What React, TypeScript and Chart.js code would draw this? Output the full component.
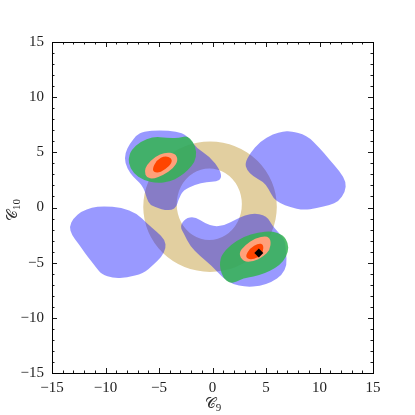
import { useEffect, useRef } from "react";
import { Chart, registerables } from "chart.js";

Chart.register(...registerables);

type P = [number, number];

const axisMin = -15;
const axisMax = 15;
const majorStep = 5;
const minorStep = 1;
const titleMain = "𝒞";
const xTitleSub = "9";
const yTitleSub = "10";

// Tan annulus: outer boundary and inner hole
const ringOuter: P[] = [
  [6.13, 0.07], [5.65, 2.37], [4.27, 4.33], [2.2, 5.63], [-0.23, 6.09], [-2.66, 5.63], [-4.73, 4.33],
  [-6.11, 2.37], [-6.59, 0.07], [-6.11, -2.23], [-4.73, -4.19], [-2.66, -5.49], [-0.23, -5.95],
  [2.2, -5.49], [4.27, -4.19], [5.65, -2.23],
];
const ringInner: P[] = [
  [2.85, 0.3], [2.43, 1.98], [1.28, 3.2], [-0.3, 3.65], [-1.88, 3.2], [-3.03, 1.98], [-3.45, 0.3],
  [-3.03, -1.38], [-1.88, -2.6], [-0.3, -3.05], [1.28, -2.6], [2.43, -1.38],
];

// Blue regions
const blueTopRight: P[] = [
  [7.24, 6.94], [8.8, 6.57], [10.05, 5.37], [10.82, 4.46], [11.92, 3.25], [12.48, 2.34], [12.41, 1.43],
  [11.76, 0.53], [10.98, 0.23], [9.74, -0.07], [8.49, -0.23], [7.24, 0.02], [6.31, 0.38], [5.68, 0.83],
  [5.21, 1.74], [4.75, 2.34], [3.81, 2.79], [3.2, 3.4], [3.04, 4.01], [3.5, 4.91], [4.44, 5.97],
  [5.68, 6.66], [6.62, 6.87],
];
const blueLeft: P[] = [
  [-10.21, 0.14], [-8.49, -0.02], [-7.08, -0.53], [-6.15, -1.43], [-5.21, -2.19], [-4.44, -2.95],
  [-4.35, -3.7], [-4.75, -4.46], [-5.53, -5.21], [-6.47, -5.97], [-8.02, -6.36], [-9.27, -6.42],
  [-10.36, -6.06], [-10.82, -5.51], [-11.29, -4.91], [-11.92, -4.15], [-12.54, -3.25], [-13.16, -2.49],
  [-13.38, -1.74], [-13.01, -0.98], [-12.22, -0.32], [-11.29, -0.02],
];
const blueTopLeft: P[] = [
  [-6.47, 6.87], [-4.91, 7.03], [-3.35, 6.87], [-2.41, 6.57], [-1.48, 5.37], [-0.23, 4.61], [0.7, 3.4],
  [0.86, 2.65], [0.39, 2.34], [-0.54, 2.34], [-1.64, 2.04], [-2.73, 1.59], [-3.2, 0.68], [-3.35, 0.07],
  [-3.81, -0.23], [-4.44, -0.23], [-5.07, -0.07], [-5.84, 0.23], [-6.15, 0.83], [-6.31, 1.43],
  [-6.62, 2.04], [-7.08, 2.49], [-7.71, 3.1], [-8.18, 4.01], [-8.18, 4.91], [-7.71, 5.82], [-7.08, 6.57],
];
const blueBottom: P[] = [
  [-2.57, -0.98], [-1.64, -0.83], [-0.7, -1.43], [0.23, -1.74], [1.17, -1.59], [2.1, -1.13], [3.04, -0.68],
  [3.97, -0.53], [4.75, -0.68], [5.21, -0.98], [5.56, -1.59], [6.12, -2.22], [6.78, -2.95], [6.87, -4.03],
  [6.96, -5.21], [6.5, -6.12], [5.56, -6.75], [4.44, -7.12], [3.13, -7.21], [1.82, -6.94], [0.89, -6.3],
  [-0.05, -5.3], [-1.17, -4.4], [-2.1, -3.49], [-2.66, -2.4], [-3.04, -1.74],
];

// Green regions
const greenTopLeft: P[] = [
  [-7.55, 5.21], [-6.78, 5.97], [-5.53, 6.42], [-4.28, 6.33], [-3.2, 6.27], [-2.41, 6.51], [-1.79, 5.97],
  [-1.48, 5.06], [-1.64, 4.15], [-2.26, 3.4], [-3.04, 2.79], [-3.97, 2.34], [-5.21, 2.19], [-6.47, 2.49],
  [-7.4, 3.1], [-7.87, 4.01], [-7.78, 4.76],
];
const greenBottomRight: P[] = [
  [0.86, -4.31], [1.64, -3.4], [2.88, -2.65], [4.28, -2.25], [5.53, -2.13], [6.62, -2.49], [7.08, -3.25],
  [7.08, -4.01], [6.62, -4.91], [5.84, -5.51], [4.91, -5.97], [3.81, -6.27], [2.88, -6.42], [2.26, -6.73],
  [1.64, -6.87], [1.01, -6.42], [0.7, -5.51], [0.7, -4.91],
];

// Salmon regions
const salmonTopLeft: P[] = [
  [-6.15, 3.85], [-5.37, 4.61], [-4.44, 5.0], [-3.5, 4.91], [-3.2, 4.31], [-3.66, 3.55], [-4.6, 2.95],
  [-5.53, 2.58], [-6.15, 2.7], [-6.37, 3.25],
];
const salmonBottomRight: P[] = [
  [2.41, -4.15], [3.04, -3.4], [3.97, -2.79], [5.07, -2.56], [5.47, -2.95], [5.37, -3.85], [4.75, -4.46],
  [3.81, -4.91], [2.88, -4.91],
];

// Red regions
const redTopLeft: P[] = [
  [-5.68, 3.4], [-5.21, 4.31], [-4.44, 4.7], [-3.81, 4.46], [-3.81, 4.01], [-4.44, 3.4], [-5.21, 3.1],
];
const redBottomRight: P[] = [
  [3.04, -4.46], [3.5, -3.7], [4.28, -3.25], [4.75, -3.34], [4.75, -4.01], [4.28, -4.55], [3.5, -4.76],
];

// Best-fit point
const bestFit: P[] = [[4.33, -4.12]];

const toPts = (arr: P[]) => arr.map(([x, y]) => ({ x, y }));
const withHoles = (...parts: P[][]) => {
  const out: any[] = [];
  parts.forEach((p, i) => {
    if (i > 0) out.push({ x: null, y: null });
    out.push(...toPts(p));
  });
  return out;
};

const regionDs = (label: string, data: any[], color: string) => ({
  label,
  data,
  region: true,
  fillColor: color,
  pointRadius: 0,
  pointHoverRadius: 0,
  showLine: false,
  backgroundColor: color,
  borderColor: color,
});

const regionPlugin = {
  id: "regions",
  beforeDatasetsDraw(chart: any) {
    const { ctx, chartArea: a } = chart;
    ctx.save();
    ctx.beginPath();
    ctx.rect(a.left, a.top, a.right - a.left, a.bottom - a.top);
    ctx.clip();
    chart.data.datasets.forEach((ds: any, i: number) => {
      if (!ds.region) return;
      const meta = chart.getDatasetMeta(i);
      const subpaths: { x: number; y: number }[][] = [[]];
      meta.data.forEach((el: any) => {
        if (isNaN(el.x) || isNaN(el.y)) {
          subpaths.push([]);
        } else {
          subpaths[subpaths.length - 1].push({ x: el.x, y: el.y });
        }
      });
      ctx.beginPath();
      subpaths.forEach((pts) => {
        const n = pts.length;
        if (n < 3) return;
        const mid = (p: any, q: any) => ({ x: (p.x + q.x) / 2, y: (p.y + q.y) / 2 });
        const s = mid(pts[n - 1], pts[0]);
        ctx.moveTo(s.x, s.y);
        for (let k = 0; k < n; k++) {
          const p = pts[k];
          const m = mid(p, pts[(k + 1) % n]);
          ctx.quadraticCurveTo(p.x, p.y, m.x, m.y);
        }
        ctx.closePath();
      });
      ctx.fillStyle = ds.fillColor;
      ctx.fill("evenodd");
    });
    ctx.restore();
  },
};

const framePlugin = {
  id: "frame",
  afterDatasetsDraw(chart: any) {
    const { ctx, chartArea: a, scales } = chart;
    const xs = scales.x;
    const ys = scales.y;
    ctx.save();
    ctx.strokeStyle = "#1a1a1a";
    ctx.lineWidth = 1;
    ctx.beginPath();
    for (let v = axisMin; v <= axisMax; v += minorStep) {
      const len = v % majorStep === 0 ? 5 : 2.5;
      const px = Math.round(xs.getPixelForValue(v)) + 0.5;
      ctx.moveTo(px, a.bottom);
      ctx.lineTo(px, a.bottom - len);
      ctx.moveTo(px, a.top);
      ctx.lineTo(px, a.top + len);
      const py = Math.round(ys.getPixelForValue(v)) + 0.5;
      ctx.moveTo(a.left, py);
      ctx.lineTo(a.left + len, py);
      ctx.moveTo(a.right, py);
      ctx.lineTo(a.right - len, py);
    }
    ctx.stroke();
    ctx.strokeStyle = "#000";
    ctx.strokeRect(a.left + 0.5, a.top + 0.5, a.right - a.left, a.bottom - a.top);
    ctx.restore();
  },
};

const serif = "'Liberation Serif', 'DejaVu Serif', serif";

const drawSubLabel = (ctx: any, main: string, sub: string) => {
  ctx.font = `15px ${serif}`;
  const wm = ctx.measureText(main).width;
  ctx.font = `11px ${serif}`;
  const ws = ctx.measureText(sub).width;
  const total = wm + ws;
  ctx.textAlign = "left";
  ctx.textBaseline = "alphabetic";
  ctx.font = `15px ${serif}`;
  ctx.fillText(main, -total / 2, 0);
  ctx.font = `11px ${serif}`;
  ctx.fillText(sub, -total / 2 + wm, 3);
};

const titlePlugin = {
  id: "axisTitles",
  afterDraw(chart: any) {
    const { ctx, chartArea: a } = chart;
    ctx.save();
    ctx.fillStyle = "#2a2a2a";
    ctx.translate((a.left + a.right) / 2 + 0.5, 408);
    drawSubLabel(ctx, titleMain, xTitleSub);
    ctx.restore();
    ctx.save();
    ctx.fillStyle = "#2a2a2a";
    ctx.translate(17, (a.top + a.bottom) / 2 + 2.5);
    ctx.rotate(-Math.PI / 2);
    drawSubLabel(ctx, titleMain, yTitleSub);
    ctx.restore();
  },
};

const fmt = (v: number | string) => {
  const n = Number(v);
  return n < 0 ? "\u2212" + Math.abs(n) : String(n);
};

export default function App() {
  const ref = useRef<HTMLCanvasElement | null>(null);
  useEffect(() => {
    if (!ref.current) return;
    const chart = new Chart(ref.current, {
      type: "scatter",
      data: {
        datasets: [
          regionDs("ring", withHoles(ringOuter, ringInner), "rgb(226,207,160)"),
          regionDs("blueTopRight", toPts(blueTopRight), "rgba(0,0,255,0.4)"),
          regionDs("blueLeft", toPts(blueLeft), "rgba(0,0,255,0.4)"),
          regionDs("blueTopLeft", toPts(blueTopLeft), "rgba(0,0,255,0.4)"),
          regionDs("blueBottom", toPts(blueBottom), "rgba(0,0,255,0.4)"),
          regionDs("greenTopLeft", toPts(greenTopLeft), "rgba(50,180,80,0.85)"),
          regionDs("greenBottomRight", toPts(greenBottomRight), "rgba(50,180,80,0.85)"),
          regionDs("salmonTopLeft", toPts(salmonTopLeft), "rgb(255,160,122)"),
          regionDs("salmonBottomRight", toPts(salmonBottomRight), "rgb(255,160,122)"),
          regionDs("redTopLeft", toPts(redTopLeft), "rgb(255,69,0)"),
          regionDs("redBottomRight", toPts(redBottomRight), "rgb(255,69,0)"),
          {
            label: "best fit",
            data: toPts(bestFit),
            pointStyle: "rectRot",
            pointRadius: 4.5,
            pointHoverRadius: 4.5,
            backgroundColor: "#000",
            borderColor: "#000",
            borderWidth: 0,
          } as any,
        ] as any,
      },
      options: {
        animation: false,
        responsive: false,
        events: [],
        layout: { padding: { top: 42, right: 42, left: 0, bottom: 0 } },
        plugins: { legend: { display: false }, tooltip: { enabled: false } },
        scales: {
          x: {
            type: "linear",
            min: axisMin,
            max: axisMax,
            afterFit: (s: any) => {
              s.height = 42;
            },
            grid: { display: false, drawTicks: false },
            border: { display: false },
            ticks: {
              stepSize: majorStep,
              padding: 6,
              color: "#222",
              font: { family: serif, size: 15 },
              callback: (v: any) => fmt(v),
              maxRotation: 0,
            },
          },
          y: {
            type: "linear",
            min: axisMin,
            max: axisMax,
            afterFit: (s: any) => {
              s.width = 52;
            },
            grid: { display: false, drawTicks: false },
            border: { display: false },
            ticks: {
              stepSize: majorStep,
              padding: 8,
              color: "#222",
              font: { family: serif, size: 15 },
              callback: (v: any) => fmt(v),
            },
          },
        },
      } as any,
      plugins: [regionPlugin, framePlugin, titlePlugin],
    });
    return () => chart.destroy();
  }, []);
  return (
    <div style={{ position: "absolute", left: 0, top: 0, width: 415, height: 415 }}>
      <canvas ref={ref} width={415} height={415} />
    </div>
  );
}
